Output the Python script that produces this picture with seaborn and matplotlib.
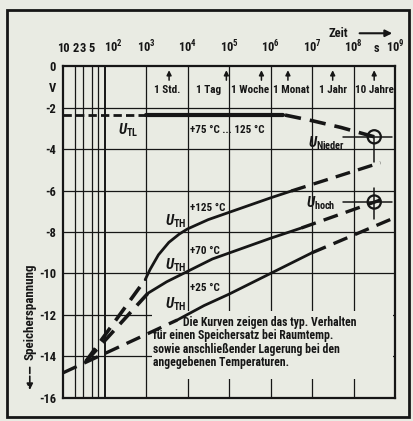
import numpy as np
import matplotlib
matplotlib.use("Agg")
import matplotlib.pyplot as plt
import seaborn as sns
from matplotlib import font_manager
from matplotlib.patches import Rectangle

# time values are given as exponents (t = 10**x seconds), voltages in V
# 125 degC curve
top_dash_x = [1.55, 2.98]
top_dash_v = [-14.25, -10.3]
top_x = [2.98, 3.1, 3.3, 3.55, 3.8, 4.0, 4.5, 5.0, 5.5, 6.0, 6.5]
top_v = [-10.3, -9.8, -9.1, -8.5, -8.1, -7.85, -7.4, -7.05, -6.7, -6.35, -6.02]
top_ext_x = [6.5, 8.65]
top_ext_v = [-6.02, -4.65]
# 70 degC curve
mid_dash_x = [1.55, 3.05]
mid_dash_v = [-14.25, -10.95]
mid_x = [3.05, 3.5, 4.0, 4.6, 5.3, 6.0, 6.75]
mid_v = [-10.95, -10.4, -9.9, -9.3, -8.8, -8.3, -7.8]
mid_ext_x = [6.75, 8.65]
mid_ext_v = [-7.8, -6.45]
# 25 degC curve
low_dash_x = [1.0, 3.75]
low_dash_v = [-14.8, -12.25]
low_x = [3.75, 4.4, 5.0, 6.0, 7.0]
low_v = [-12.25, -11.55, -11.0, -10.0, -9.0]
low_ext_x = [7.0, 9.0]
low_ext_v = [-9.0, -7.3]
# U_TL
tl_pre_x = [1.0, 3.0]
tl_pre_v = [-2.35, -2.35]
tl_x = [3.0, 6.3]
tl_v = [-2.35, -2.35]
tl_ext_x = [6.35, 7.0, 7.7, 8.5]
tl_ext_v = [-2.35, -2.62, -2.95, -3.4]

# end points after 10 years
end_x = [8.5, 8.5]
end_v = [-3.4, -6.55]

# time marks
mark_names = ["1 Std.", "1 Tag", "1 Woche", "1 Monat", "1 Jahr", "10 Jahre"]
mark_secs = [3600, 86400, 604800, 2.63e6, 3.15e7, 3.15e8]
xtick_vals = [10, 20, 30, 50, 1e2, 1e3, 1e4, 1e5, 1e6, 1e7, 1e8, 1e9]
xtick_labels = ["10", "2", "3", "5", "10$^2$", "10$^3$", "10$^4$", "10$^5$",
                "10$^6$", "10$^7$", "10$^8$", "10$^9$"]
ytick_vals = [0, -1, -2, -4, -6, -8, -10, -12, -14, -16]
ytick_labels = ["0", "V", "-2", "-4", "-6", "-8", "-10", "-12", "-14", "-16"]

note_lines = ["Die Kurven zeigen das typ. Verhalten",
              "für einen Speichersatz bei Raumtemp.",
              "sowie anschließender Lagerung bei den",
              "angegebenen Temperaturen."]

BG = "#e9ebe3"
INK = "#161616"

sns.set_theme(style="white")
names = {f.name for f in font_manager.fontManager.ttflist}
FONT = "DejaVu Sans"
for cand in ["Liberation Sans Narrow", "Roboto Condensed", "DejaVu Sans Condensed",
             "Open Sans Condensed", "Noto Sans Condensed"]:
    if cand in names:
        FONT = cand
        break
plt.rcParams["font.family"] = [FONT, "DejaVu Sans"]
plt.rcParams["font.weight"] = "bold"
plt.rcParams["font.stretch"] = "condensed"
plt.rcParams["mathtext.fontset"] = "custom"
plt.rcParams["mathtext.rm"] = FONT + ":bold"
plt.rcParams["mathtext.it"] = FONT + ":italic:bold"
plt.rcParams["mathtext.bf"] = FONT + ":bold"

fig = plt.figure(figsize=(4.13, 4.21), dpi=100, facecolor=BG)
ax = fig.add_axes([63 / 413, (421 - 397.7) / 421, 332 / 413, 331.3 / 421])
ax.set_facecolor(BG)
ax.set_xscale("log")
ax.set_xlim(10, 1e9)
ax.set_ylim(-16, 0)
renderer = fig.canvas.get_renderer()
fits = []

# grid
for v in range(-14, 0, 2):
    ax.axhline(v, color=INK, lw=0.9, zorder=1)
for t in [20, 30, 50, 70] + [10.0 ** k for k in range(2, 9)]:
    ax.axvline(t, color=INK, lw=1.4 if t == 100 else 0.9, zorder=1)

# box under the note
ax.add_patch(Rectangle((10 ** 3.15, -15.1), 10 ** 8.95 - 10 ** 3.15, 3.3,
                       facecolor=BG, edgecolor="none", zorder=1.5))


def seg(xs, vs, dashed=False, lw=2.0, dash=(4.5, 2.5)):
    ls = (0, dash) if dashed else "-"
    sns.lineplot(x=np.power(10.0, xs), y=vs, ax=ax, color=INK, lw=lw,
                 linestyle=ls, zorder=3)


seg(top_dash_x, top_dash_v, dashed=True, lw=2.6)
seg(top_x, top_v)
seg(top_ext_x, top_ext_v, dashed=True, lw=2.4)
seg(mid_dash_x, mid_dash_v, dashed=True, lw=2.6)
seg(mid_x, mid_v)
seg(mid_ext_x, mid_ext_v, dashed=True, lw=2.4)
seg(low_dash_x, low_dash_v, dashed=True, lw=2.4)
seg(low_x, low_v)
seg(low_ext_x, low_ext_v, dashed=True, lw=2.4)
seg(tl_pre_x, tl_pre_v, dashed=True, lw=2.0, dash=(3, 1.5))
seg(tl_x, tl_v, lw=3.0)
seg(tl_ext_x, tl_ext_v, dashed=True, lw=2.6)

# end markers with cross lines
for x, v in zip(end_x, end_v):
    ax.plot([10 ** 7.75, 10 ** 8.92], [v, v], color=INK, lw=1.1, zorder=4)
ax.plot([10 ** 8.5] * 2, [end_v[0], -4.6], color=INK, lw=1.1, zorder=4)
ax.plot([10 ** 8.5] * 2, [end_v[1] + 0.7, end_v[1] - 0.8], color=INK, lw=1.1, zorder=4)
sns.scatterplot(x=np.power(10.0, end_x), y=end_v, ax=ax, s=90, facecolor="none",
                edgecolor=INK, linewidth=1.6, zorder=5)

# axes frame
for sp in ax.spines.values():
    sp.set_visible(True)
    sp.set_color(INK)
    sp.set_linewidth(1.6)

# ticks
ax.xaxis.tick_top()
ax.set_xticks(xtick_vals)
ax.set_xticklabels(xtick_labels, fontsize=9)
ax.xaxis.set_minor_locator(matplotlib.ticker.NullLocator())
ax.get_xticklabels()[4].set_ha("left")
ax.set_yticks(ytick_vals)
ax.set_yticklabels(ytick_labels, fontsize=9)
ax.tick_params(axis="both", length=0, colors=INK)
ax.tick_params(axis="x", pad=8)
ax.tick_params(axis="y", pad=5)
ax.text(10 ** 8.55, 0.85, "s", ha="center", va="center", fontsize=9,
        color=INK, clip_on=False)

# time marks
mark_widths = [30, 27, 40, 39, 28, 42]
for k, (name, sec) in enumerate(zip(mark_names, mark_secs)):
    t = ax.text(10 ** (3.5 + k), -1.15, name, ha="center", va="center",
                fontsize=8, color=INK)
    fits.append((t, mark_widths[k]))
    ax.annotate("", xy=(sec, -0.05), xytext=(sec, -0.8),
                arrowprops=dict(arrowstyle="-|>", color=INK, lw=1.1,
                                mutation_scale=7), zorder=4)

# labels
t = ax.text(10 ** 2.57, -3.1, r"$\mathit{U}_{\rm TL}$", ha="center", va="center",
            fontsize=10.5, color=INK)
fits.append((t, 26))
t = ax.text(10 ** 4.05, -3.07, "+75 °C ... 125 °C", ha="left", va="center",
            fontsize=8, color=INK)
fits.append((t, 82))
t = ax.text(10 ** 7.35, -3.7, r"$\mathit{U}_{\rm Nieder}$", ha="center", va="center",
            fontsize=10.5, color=INK)
fits.append((t, 42))
t = ax.text(10 ** 7.2, -6.6, r"$\mathit{U}_{\rm hoch}$", ha="center", va="center",
            fontsize=10.5, color=INK)
fits.append((t, 36))
for v in [-7.5, -9.6, -11.5]:
    t = ax.text(10 ** 3.97, v, r"$\mathit{U}_{\rm TH}$", ha="right", va="center",
                fontsize=10.5, color=INK, zorder=4)
    fits.append((t, 29))
for v, lab in zip([-6.86, -8.9, -10.7], ["+125 °C", "+70 °C", "+25 °C"]):
    t = ax.text(10 ** 4.05, v, lab, ha="left", va="center", fontsize=8, color=INK)
    fits.append((t, 42 if "125" in lab else 35))

# note (one text per line so widths can be matched)
note_x = [3.9, 3.17, 3.17, 3.17]
note_widths = [200, 182, 229, 155]
for k, line in enumerate(note_lines):
    t = ax.text(10 ** note_x[k], -12.35 - 0.65 * k, line, ha="left", va="center",
                fontsize=8.5, color=INK, zorder=4)
    fits.append((t, note_widths[k]))

# y label and arrow
ylab = ax.text(-0.1, 0.26, "Speicherspannung", rotation=90, ha="center", va="center",
               fontsize=9.5, color=INK, transform=ax.transAxes)
ax.annotate("", xy=(-0.1, 0.015), xytext=(-0.1, 0.1), xycoords="axes fraction",
            arrowprops=dict(arrowstyle="-|>", color=INK, lw=1.2, ls="--",
                            mutation_scale=9))

# time axis title
ax.text(0.83, 1.1, "Zeit", ha="center", va="center", fontsize=9,
        color=INK, transform=ax.transAxes)
ax.annotate("", xy=(1.0, 1.1), xytext=(0.885, 1.1), xycoords="axes fraction",
            arrowprops=dict(arrowstyle="-|>", color=INK, lw=1.5, mutation_scale=10))

# outer frame
fig.add_artist(Rectangle((7 / 413, 4 / 421), 402 / 413, 407 / 421,
                         transform=fig.transFigure, fill=False,
                         edgecolor=INK, lw=2))

# shrink texts whose width exceeds the width seen in the reference
fig.canvas.draw()
for txt, target in fits:
    w = txt.get_window_extent(renderer).width
    if w > target:
        txt.set_fontsize(txt.get_fontsize() * target / w)
h = ylab.get_window_extent(renderer).height
if h > 97:
    ylab.set_fontsize(ylab.get_fontsize() * 97 / h)

fig.savefig("out.png", dpi=100, facecolor=BG)
